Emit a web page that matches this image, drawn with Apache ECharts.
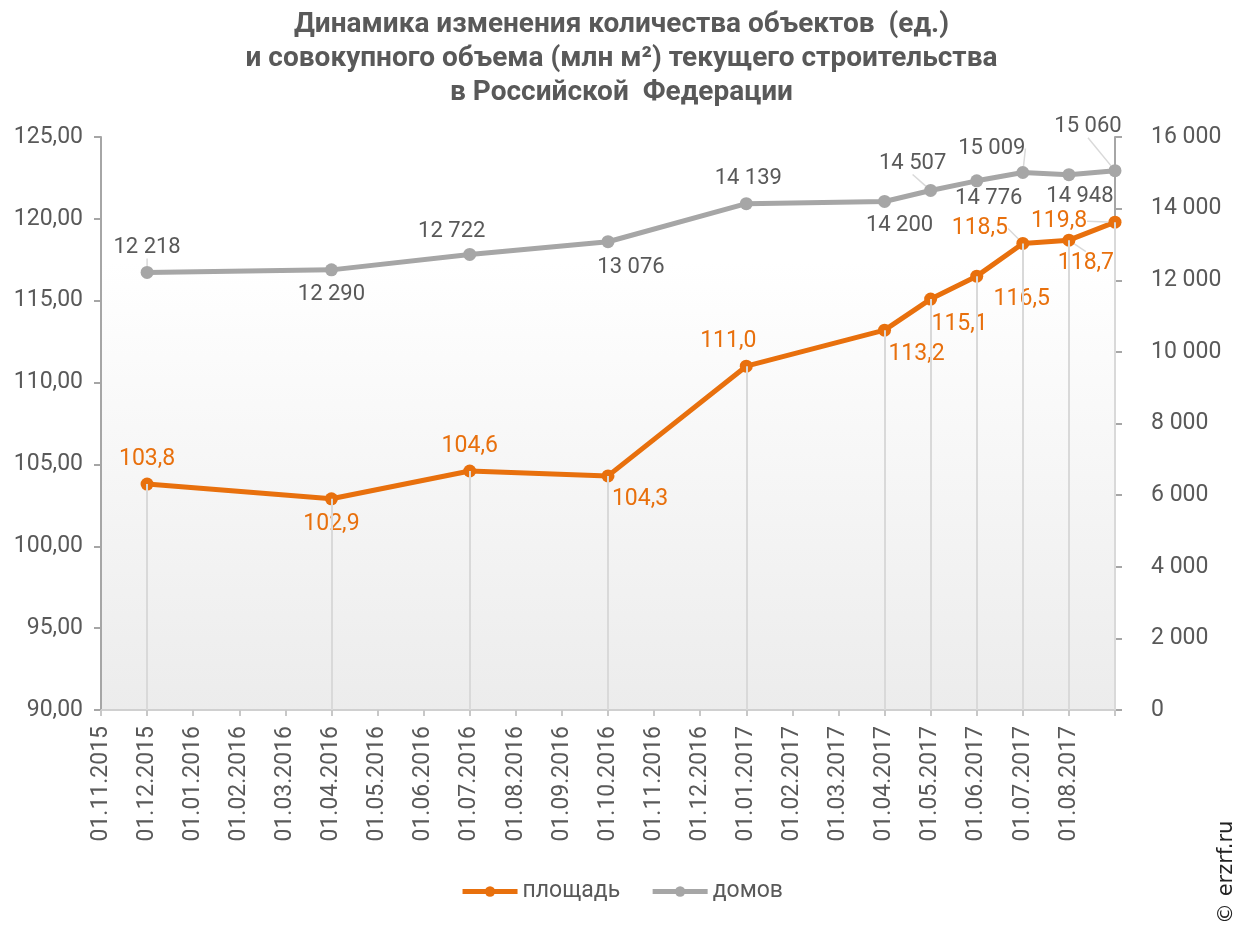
<!DOCTYPE html>
<html>
<head>
<meta charset="utf-8">
<script src="https://cdn.jsdelivr.net/npm/echarts@6/dist/echarts.min.js"></script>
<style>
html,body{margin:0;padding:0;background:#fff;}
#chart{width:1243px;height:925px;}
</style>
</head>
<body>
<div id="chart"></div>
<script>
// ---- data ----
const months = ['01.11.2015','01.12.2015','01.01.2016','01.02.2016','01.03.2016','01.04.2016','01.05.2016','01.06.2016','01.07.2016','01.08.2016','01.09.2016','01.10.2016','01.11.2016','01.12.2016','01.01.2017','01.02.2017','01.03.2017','01.04.2017','01.05.2017','01.06.2017','01.07.2017','01.08.2017','01.09.2017'];
const dates = ['01.12.2015','01.04.2016','01.07.2016','01.10.2016','01.01.2017','01.04.2017','01.05.2017','01.06.2017','01.07.2017','01.08.2017','01.09.2017'];
const area = [103.8, 102.9, 104.6, 104.3, 111.0, 113.2, 115.1, 116.5, 118.5, 118.7, 119.8];
const houses = [12218, 12290, 12722, 13076, 14139, 14200, 14507, 14776, 15009, 14948, 15060];
const seriesNames = ['площадь', 'домов'];
const titleText = 'Динамика изменения количества объектов  (ед.)\nи совокупного объема (млн м²) текущего строительства\nв Российской  Федерации';

// ---- label layout (offsets of label centre from point, px) ----
const areaLabelOffsets = [[0,-25],[0,25],[0,-25],[32,23],[-18,-25],[32,24],[29,25],[45,23],[-43,-15],[17,23],[-56,-1]];
const areaLeader = [false,false,false,false,false,false,false,false,true,true,true];
const houseLabelOffsets = [[0,-25],[0,25],[-18,-23],[23,26],[2,-25],[15,24],[-18,-27],[12,18],[-31,-24],[11,22],[-27,-44]];
const houseLeader = [true,false,false,false,false,false,true,false,true,false,true];

const ORANGE = '#e8700d';
const GRAY = '#a6a6a6';
const TXT = '#595959';
const FONT = 'Roboto, "Liberation Sans", sans-serif';

function fmtArea(v){ return v.toFixed(1).replace('.', ','); }
function fmtThousands(v){ return String(Math.round(v)).replace(/\B(?=(\d{3})+(?!\d))/g, ' '); }

function makeLayout(offsets){
  return function(params){
    const r = params.rect;
    const o = offsets[params.dataIndex] || [0,0];
    return {
      x: r.x + r.width/2 + o[0],
      y: r.y + r.height/2 + o[1],
      align: 'center',
      verticalAlign: 'middle',
      hideOverlap: false
    };
  };
}

const areaData = dates.map((d,i) => ({value:[d, area[i]], labelLine:{show: areaLeader[i]}}));
const houseData = dates.map((d,i) => ({value:[d, houses[i]], labelLine:{show: houseLeader[i]}}));
const dropLines = dates.map((d,i) => [{coord:[d, area[i]]}, {coord:[d, 90]}]);

const chart = echarts.init(document.getElementById('chart'), null, {renderer:'canvas'});
chart.setOption({
  animation: false,
  backgroundColor: '#ffffff',
  textStyle: {fontFamily: FONT},
  title: {
    text: titleText,
    left: 'center',
    top: 3,
    textStyle: {
      fontFamily: FONT,
      fontWeight: 'bold',
      fontSize: 28,
      lineHeight: 34,
      color: TXT
    }
  },
  legend: {
    data: seriesNames,
    left: 'center',
    top: 875,
    itemWidth: 55,
    itemHeight: 13,
    itemGap: 30,
    lineStyle: {width: 5},
    textStyle: {fontSize: 23, color: TXT, fontFamily: FONT}
  },
  grid: {
    left: 101, right: 128, top: 137, bottom: 215,
    show: true,
    borderWidth: 0,
    backgroundColor: new echarts.graphic.LinearGradient(0,0,0,1,[
      {offset:0, color:'#ffffff'},
      {offset:0.22, color:'#ffffff'},
      {offset:1, color:'#ececec'}
    ])
  },
  xAxis: {
    type: 'category',
    data: months,
    boundaryGap: false,
    axisLine: {show: true, lineStyle: {color: '#d0d0d0', width: 2}},
    axisTick: {show: true, interval: 0, length: 6, lineStyle: {color: '#c8c8c8', width: 2}},
    axisLabel: {
      interval: 0,
      rotate: 90,
      margin: 16,
      fontSize: 23,
      color: TXT,
      fontFamily: FONT,
      formatter: (v, i) => (i === months.length - 1 ? '' : v)
    },
    splitLine: {show: false}
  },
  yAxis: [
    {
      type: 'value',
      min: 90, max: 125, interval: 5,
      position: 'left',
      axisLine: {show: true, lineStyle: {color: '#a6a6a6', width: 2}},
      axisTick: {show: true, length: 7, lineStyle: {color: '#a6a6a6', width: 2}},
      axisLabel: {fontSize: 23, color: TXT, margin: 18, fontFamily: FONT, formatter: v => v.toFixed(2).replace('.', ',')},
      splitLine: {show: false}
    },
    {
      type: 'value',
      min: 0, max: 16000, interval: 2000,
      position: 'right',
      axisLine: {show: true, lineStyle: {color: '#a6a6a6', width: 2}},
      axisTick: {show: true, length: 7, lineStyle: {color: '#a6a6a6', width: 2}},
      axisLabel: {fontSize: 23, color: TXT, margin: 36, fontFamily: FONT, formatter: v => fmtThousands(v)},
      splitLine: {show: false}
    }
  ],
  series: [
    {
      name: 'drops',
      type: 'line',
      data: [],
      z: 1,
      silent: true,
      markLine: {
        silent: true,
        symbol: ['none','none'],
        label: {show: false},
        lineStyle: {color: '#d9d9d9', width: 2, type: 'solid'},
        emphasis: {disabled: true},
        data: dropLines
      }
    },
    {
      name: seriesNames[1],
      type: 'line',
      yAxisIndex: 1,
      data: houseData,
      z: 3,
      color: GRAY,
      symbol: 'circle',
      symbolSize: 13,
      lineStyle: {color: GRAY, width: 5},
      itemStyle: {color: GRAY},
      label: {
        show: true,
        fontSize: 22,
        color: TXT,
        fontFamily: FONT,
        formatter: p => fmtThousands(p.value[1])
      },
      labelLine: {show: false, lineStyle: {color: '#d9d9d9', width: 1.5}},
      labelLayout: makeLayout(houseLabelOffsets)
    },
    {
      name: seriesNames[0],
      type: 'line',
      yAxisIndex: 0,
      data: areaData,
      z: 4,
      color: ORANGE,
      symbol: 'circle',
      symbolSize: 13,
      lineStyle: {color: ORANGE, width: 5},
      itemStyle: {color: ORANGE},
      label: {
        show: true,
        fontSize: 23,
        color: ORANGE,
        fontFamily: FONT,
        formatter: p => fmtArea(p.value[1])
      },
      labelLine: {show: false, lineStyle: {color: '#d9d9d9', width: 1.5}},
      labelLayout: makeLayout(areaLabelOffsets)
    }
  ],
  graphic: [
    {
      type: 'text',
      right: 6,
      bottom: 1,
      rotation: Math.PI / 2,
      style: {
        text: '© erzrf.ru',
        fontSize: 21,
        fill: '#222222',
        fontFamily: '"DejaVu Sans", sans-serif'
      }
    }
  ]
});
</script>
</body>
</html>
